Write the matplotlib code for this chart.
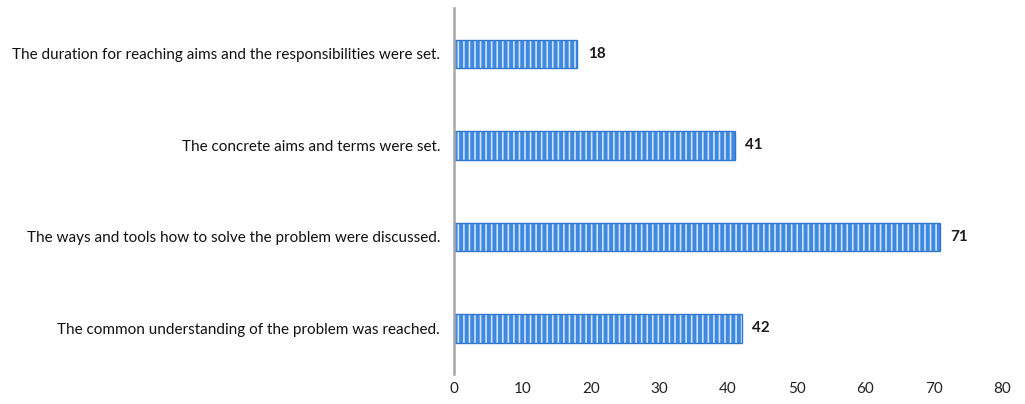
import matplotlib.pyplot as plt

plt.rcParams['font.family'] = ['Lato', 'DejaVu Sans']
plt.rcParams['hatch.linewidth'] = 1.2

categories = [
    'The common understanding of the problem was reached.',
    'The ways and tools how to solve the problem were discussed.',
    'The concrete aims and terms were set.',
    'The duration for reaching aims and the responsibilities were set.',
]
values = [42, 71, 41, 18]
xticks = [0, 10, 20, 30, 40, 50, 60, 70, 80]

fig = plt.figure(figsize=(10.25, 4.04), dpi=100)
ax = fig.add_axes([0.443, 0.074, 0.5346, 0.906])

pos = range(len(values))
# striped fill
ax.barh(pos, values, height=0.31, color='#3f8ae0', hatch='|||',
        edgecolor='#cfe2f8', linewidth=0)
# outline
ax.barh(pos, values, height=0.31, color='none', edgecolor='#2f78cc', linewidth=1.0)

for i, v in enumerate(values):
    ax.text(v + 1.5, i, str(v), va='center', ha='left', fontsize=11,
            fontweight='bold', color='#1a1a1a')

ax.set_xlim(0, 80)
ax.set_ylim(-0.5, 3.5)
ax.set_xticks(xticks)
ax.set_xticklabels([str(t) for t in xticks], fontsize=11, color='#222222')
ax.set_yticks(list(pos))
ax.set_yticklabels(categories, fontsize=11, color='#111111')
ax.tick_params(axis='both', length=0)
ax.tick_params(axis='x', pad=6)
ax.tick_params(axis='y', pad=10)

for s in ['top', 'right', 'bottom']:
    ax.spines[s].set_visible(False)
ax.spines['left'].set_color('#a6a6a6')
ax.spines['left'].set_linewidth(1.8)

fig.savefig('out.png', dpi=100)
